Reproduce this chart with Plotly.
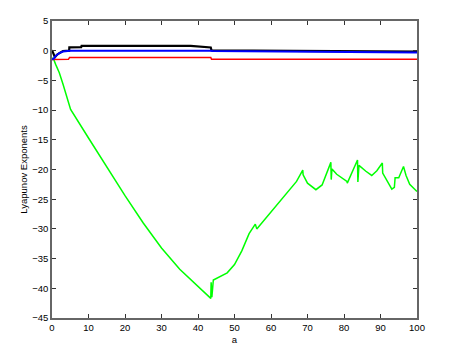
import plotly.graph_objects as go

green_x = [0, 0.5, 1, 2, 3, 4, 4.8, 5.1, 10, 15, 20, 25, 30, 35, 40, 43.5, 43.6, 43.8, 44.2, 46, 48, 50, 52, 54,
           55.7, 56.1, 58, 60, 63, 67, 68.7, 68.8, 70, 72.3, 74, 76.4, 76.5, 76.7, 78, 80.8, 80.9, 83.7, 83.8,
           84.1, 86, 87.6, 89, 90.5, 90.6, 92, 93.1, 93.8, 94, 95, 96.3, 97, 98, 100]
green_y = [-1.2, -1.5, -2.3, -3.7, -5.6, -7.6, -9.3, -9.9, -14.7, -19.6, -24.4, -29.0, -33.2, -36.8, -39.7, -41.7,
           -39.0, -41.5, -38.6, -38.0, -37.4, -36.0, -33.7, -30.8, -29.2, -30.0, -28.6, -27.0, -24.8, -22.0, -20.1,
           -20.9, -22.3, -23.4, -22.6, -18.8, -21.7, -19.9, -20.8, -22.0, -22.3, -18.4, -22.1, -19.3, -20.3, -21.0,
           -20.2, -18.9, -20.6, -22.2, -23.3, -23.0, -21.4, -21.4, -19.5, -21.0, -22.5, -23.7]

black_x = [0, 0.8, 1.5, 3, 4.7, 4.75, 8, 8.1, 38, 42, 43.5, 43.7, 60, 100]
black_y = [0.1, -1.1, -0.6, -0.05, 0.0, 0.55, 0.6, 0.8, 0.8, 0.65, 0.55, 0.05, 0.0, -0.15]

blue_x = [0, 0.5, 1, 1.5, 2, 3, 4, 5, 43.5, 44, 100]
blue_y = [-1.5, -1.3, -0.9, -0.6, -0.4, -0.15, -0.05, 0.0, 0.0, -0.05, -0.3]

red_x = [0, 4.5, 4.8, 43.5, 43.7, 100]
red_y = [-1.5, -1.45, -1.15, -1.15, -1.45, -1.45]

fig = go.Figure()
fig.add_trace(go.Scatter(x=green_x, y=green_y, mode="lines", line=dict(color="#00ff00", width=1.5)))
fig.add_trace(go.Scatter(x=red_x, y=red_y, mode="lines", line=dict(color="#ff0000", width=1.5)))
fig.add_trace(go.Scatter(x=black_x, y=black_y, mode="lines", line=dict(color="#000000", width=2.2)))
fig.add_trace(go.Scatter(x=blue_x, y=blue_y, mode="lines", line=dict(color="#0000ff", width=2)))

font = "Liberation Sans, Arial"
axis_common = dict(showgrid=False, zeroline=False, showline=True, linecolor="#666666", linewidth=1.5,
                   mirror="ticks", ticks="inside", ticklen=4, tickcolor="#333333",
                   tickfont=dict(family=font, size=9.5, color="#000000"))

fig.update_layout(
    width=466, height=355,
    margin=dict(l=44, r=57, t=13, b=45, autoexpand=False),
    paper_bgcolor="white", plot_bgcolor="white",
    showlegend=False,
    xaxis=dict(range=[0, 100], tickmode="linear", tick0=0, dtick=10,
               title=dict(text="a", font=dict(family=font, size=9.5, color="#000"), standoff=4),
               **axis_common),
    yaxis=dict(range=[-45, 5], tickmode="linear", tick0=-45, dtick=5,
               title=dict(text="Lyapunov Exponents", font=dict(family=font, size=9.5, color="#000"), standoff=3),
               **axis_common),
)

fig.write_html("out.html")
